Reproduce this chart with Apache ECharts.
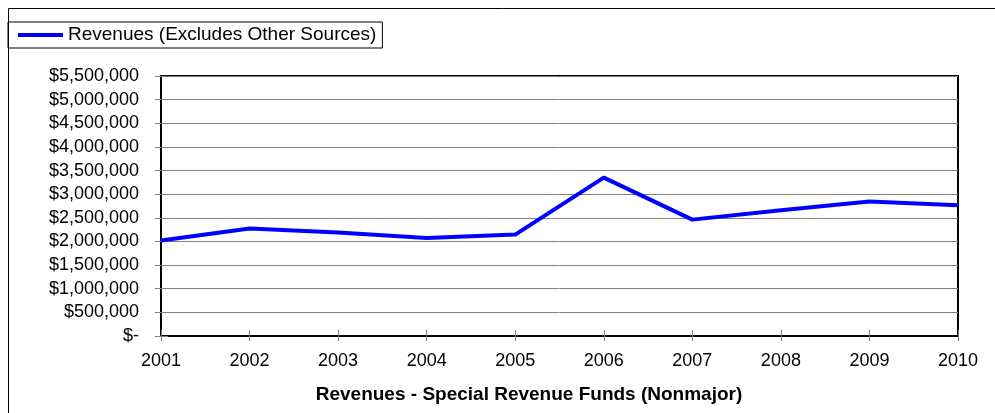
<!DOCTYPE html>
<html>
<head>
<meta charset="utf-8">
<script src="https://cdn.jsdelivr.net/npm/echarts@6/dist/echarts.min.js"></script>
<style>html,body{margin:0;padding:0;background:#fff}#c{width:995px;height:413px}</style>
</head>
<body>
<div id="c"></div>
<script>
const years = ['2001','2002','2003','2004','2005','2006','2007','2008','2009','2010'];
const revenues = [2020000, 2272000, 2187000, 2073000, 2145000, 3350000, 2462000, 2658000, 2843000, 2765000];
const seriesName = 'Revenues (Excludes Other Sources)';
const axisTitle = 'Revenues - Special Revenue Funds (Nonmajor)';

const chart = echarts.init(document.getElementById('c'), null, {renderer: 'canvas'});
const font = 'Liberation Sans, Arial, sans-serif';
function fmt(v){
  if (v === 0) return '$-';
  return '$' + v.toString().replace(/\B(?=(\d{3})+(?!\d))/g, ',');
}
const tickStyle = {color: '#808080', width: 1};
chart.setOption({
  animation: false,
  textStyle: {fontFamily: font},
  graphic: [
    {type: 'rect', shape: {x: 8.5, y: 8.5, width: 1100, height: 500}, style: {fill: 'none', stroke: '#000', lineWidth: 1}, z: -1},
    {type: 'text', x: 529, y: 395, style: {text: axisTitle, font: 'bold 19px ' + font, fill: '#000', textAlign: 'center', textVerticalAlign: 'middle'}}
  ],
  legend: {
    left: 8, top: 22,
    padding: [3, 6, 3, 10],
    borderColor: '#000', borderWidth: 1,
    itemWidth: 45, itemHeight: 4, itemGap: 4,
    icon: 'rect',
    textStyle: {fontSize: 19, color: '#000', fontFamily: font, lineHeight: 20},
    data: [seriesName]
  },
  grid: {left: 161, right: 37, top: 76, bottom: 77, show: true, borderColor: '#000', borderWidth: 2, backgroundColor: 'transparent'},
  xAxis: [{
    type: 'category', data: years, boundaryGap: false, position: 'bottom',
    axisLine: {lineStyle: {color: '#000', width: 2}},
    axisTick: {show: true, length: 5, lineStyle: tickStyle},
    axisLabel: {fontSize: 18, color: '#000', margin: 16, fontFamily: font}
  }, {
    type: 'category', data: years, boundaryGap: false, position: 'bottom',
    axisLine: {show: false},
    axisTick: {show: true, inside: true, length: 6, lineStyle: tickStyle},
    axisLabel: {show: false}, splitLine: {show: false}
  }],
  yAxis: [{
    type: 'value', min: 0, max: 5500000, interval: 500000, position: 'left',
    axisLine: {show: true, lineStyle: {color: '#000', width: 2}},
    axisTick: {show: true, length: 6, lineStyle: tickStyle},
    splitLine: {lineStyle: {color: '#808080', width: 1}},
    axisLabel: {fontSize: 18, color: '#000', margin: 22, fontFamily: font, formatter: fmt}
  }, {
    type: 'value', min: 0, max: 5500000, interval: 500000, position: 'left',
    axisLine: {show: false},
    axisTick: {show: true, inside: true, length: 7, lineStyle: tickStyle},
    splitLine: {show: false}, axisLabel: {show: false}
  }],
  series: [{
    name: seriesName, type: 'line', data: revenues,
    symbol: 'none', lineStyle: {color: '#0000FF', width: 4}, itemStyle: {color: '#0000FF'}
  }]
});
</script>
</body>
</html>
